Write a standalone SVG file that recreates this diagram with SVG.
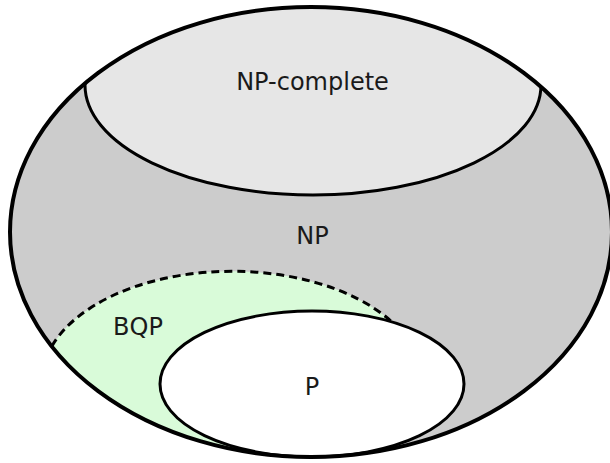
<svg xmlns="http://www.w3.org/2000/svg" width="610" height="463" viewBox="0 0 610 463">
<style>
.lbl{font-family:"DejaVu Sans","Liberation Sans",sans-serif;font-size:24px;fill:#1a1a1a;text-anchor:middle}
.ln{fill:none;stroke:#000;stroke-width:3}
</style>
<defs>
<clipPath id="outerClip"><ellipse cx="311" cy="232" rx="301" ry="225"/></clipPath>
</defs>
<rect width="610" height="463" fill="#fff"/>
<g id="np">
<ellipse cx="311" cy="232" rx="301" ry="225" fill="#cccccc"/>
</g>
<g id="np-complete" clip-path="url(#outerClip)">
<ellipse cx="313" cy="85" rx="228" ry="110" fill="#e6e6e6" stroke="#000" stroke-width="3"/>
</g>
<g id="bqp" clip-path="url(#outerClip)">
<path d="M52,346 A190,110 0 0 1 392,322 A152,73 0 1 0 312,457 A301,225 0 0 1 52,346 Z" fill="#d9fbd9"/>
<path d="M52,346 A190,110 0 0 1 392,322" class="ln" stroke-dasharray="8,5"/>
</g>
<g id="p">
<ellipse cx="312" cy="384" rx="152" ry="73" fill="#fff" class="ln" style="fill:#fff"/>
</g>
<g id="outline">
<ellipse cx="311" cy="232" rx="301" ry="225" fill="none" stroke="#000" stroke-width="4"/>
</g>
<g id="labels">
<text class="lbl" x="312.5" y="90">NP-complete</text>
<text class="lbl" x="312.5" y="244">NP</text>
<text class="lbl" x="138" y="335">BQP</text>
<text class="lbl" x="312" y="395">P</text>
</g>
</svg>
